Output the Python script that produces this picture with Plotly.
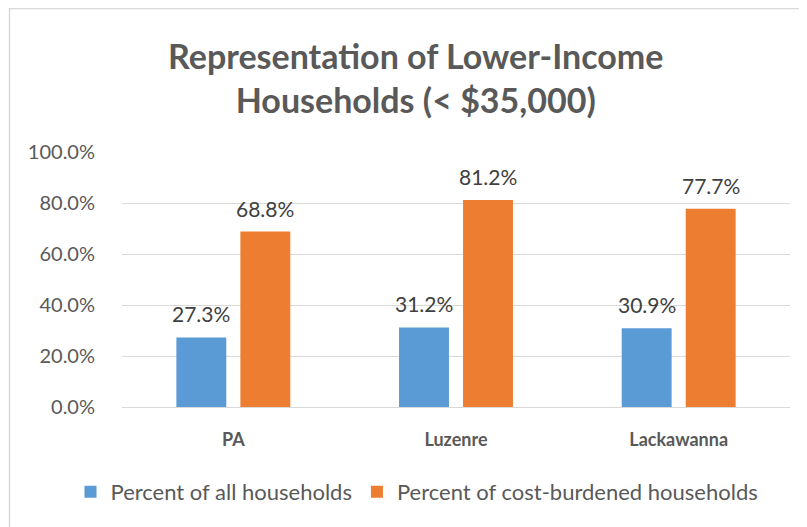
import plotly.graph_objects as go

categories = ["PA", "Luzenre", "Lackawanna"]
all_households = [27.3, 31.2, 30.9]
cost_burdened = [68.8, 81.2, 77.7]
series_names = ["Percent of all households", "Percent of cost-burdened households"]
title_text = "Representation of Lower-Income<br>Households (< $35,000)"

FONT = "Lato, 'Open Sans', sans-serif"
OFF = 8  # page body margin
W, H = 807 - OFF, 527 - OFF
T, B = 152 - OFF, H - (407 - OFF)
ph = H - T - B

def px_x(x):
    return (x - OFF) / W

def px_y(y):
    return (H - B - (y - OFF)) / ph

colors = ["#5b9bd5", "#ed7d31"]

fig = go.Figure()
for name, vals, col in zip(series_names, [all_households, cost_burdened], colors):
    fig.add_trace(go.Bar(
        x=categories, y=vals, name=name,
        marker=dict(color=col, line=dict(width=0)),
        hoverinfo="x+y",
    ))

# data labels
for vals, shift in zip([all_households, cost_burdened], [-32, 32]):
    for c, v in zip(categories, vals):
        fig.add_annotation(
            x=c, y=v, xref="x", yref="y", text=f"{v:.1f}%",
            showarrow=False, xanchor="center", yanchor="bottom",
            xshift=shift, yshift=9,
            font=dict(size=21, color="#404040", family=FONT),
        )

fig.update_layout(
    width=W, height=H,
    margin=dict(l=0, r=0, t=T, b=B, autoexpand=False),
    paper_bgcolor="white", plot_bgcolor="white",
    barmode="group", bargap=0.425, bargroupgap=0.22,
    font=dict(family=FONT, color="#595959"),
    showlegend=True,
    legend=dict(
        orientation="h", x=px_x(417), xanchor="center",
        y=px_y(492), yanchor="middle",
        font=dict(size=22, color="#595959", family=FONT),
        itemwidth=30, traceorder="normal",
    ),
)

fig.update_xaxes(
    domain=[px_x(122), px_x(790)],
    showgrid=False, showline=False, zeroline=False,
    tickfont=dict(size=18, color="#595959", family=FONT, weight="bold"),
    ticks="outside", ticklen=16, tickcolor="rgba(0,0,0,0)",
)
fig.update_yaxes(
    range=[0, 100], dtick=20, tickformat=".1f", ticksuffix="%",
    showgrid=True, gridcolor="#d9d9d9", gridwidth=1,
    zeroline=True, zerolinecolor="#d9d9d9", zerolinewidth=1,
    showline=False,
    tickfont=dict(size=20, color="#595959", family=FONT),
    ticks="outside", ticklen=22, tickcolor="rgba(0,0,0,0)",
)

fig.add_annotation(
    text=title_text, xref="paper", yref="paper",
    x=px_x(415), y=px_y(78), xanchor="center", yanchor="middle",
    showarrow=False, align="center",
    font=dict(size=34, color="#595959", family=FONT, weight="bold"),
)

fig.add_shape(
    type="rect", xref="paper", yref="paper",
    x0=px_x(9.5), x1=px_x(804.5), y0=px_y(540), y1=px_y(8.5),
    line=dict(color="#d9d9d9", width=1.5), fillcolor="rgba(0,0,0,0)",
    layer="below",
)

fig.write_html("out.html")
